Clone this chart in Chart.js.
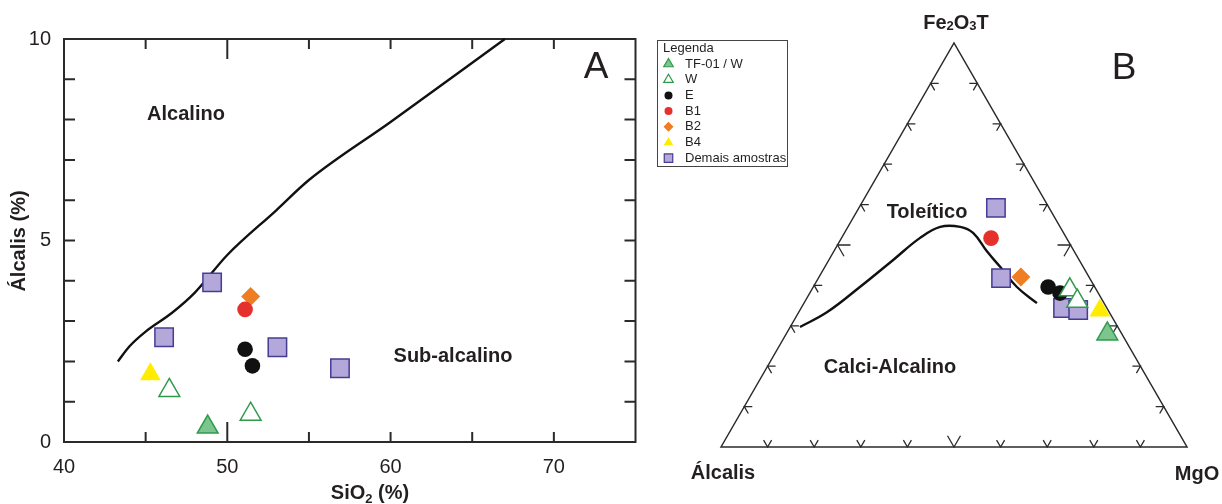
<!DOCTYPE html>
<html>
<head>
<meta charset="utf-8">
<script src="https://cdn.jsdelivr.net/npm/chart.js@4.4.1/dist/chart.umd.min.js"></script>
<style>
  body { margin: 0; background: #fff; }
  #wrap { position: relative; width: 1222px; height: 504px; }
  canvas { position: absolute; top: 0; }
  #chartA { left: 0; }
  #chartB { left: 650px; }
</style>
</head>
<body>
<div id="wrap">
  <canvas id="chartA" width="650" height="504"></canvas>
  <canvas id="chartB" width="572" height="504"></canvas>
</div>
<script>
// grupos de amostras, na ordem da legenda
const groupNames = ['TF-01 / W', 'W', 'E', 'B1', 'B2', 'B4', 'Demais amostras'];

// A: SiO2 (%) x álcalis (%)
const silica  = [[48.8], [46.45, 51.43], [51.09, 51.54], [51.09], [51.43], [45.29], [49.07, 46.13, 53.07, 56.9]];
const alkalis = [[0.37], [1.28, 0.69], [2.3, 1.89], [3.29], [3.61], [1.68], [3.96, 2.6, 2.35, 1.83]];

// limite alcalino / sub-alcalino
const divSilica  = [43.3, 44, 45, 46.6, 48, 50, 53, 55, 60, 67];
const divAlkalis = [2.0, 2.37, 2.74, 3.2, 3.7, 4.64, 5.75, 6.5, 7.94, 10];

const silicaTicks = [40, 50, 60, 70];
const alkaliTicks = [0, 5, 10];

// B: AFM (álcalis, Fe2O3T, MgO em %)
const afmA = [[3.1], [5.7, 5.5], [10.0, 8.2], [16.2], [14.6], [1.8], [11.4, 19.0, 9.4, 6.4]];
const afmF = [[28.0], [38.9, 36.1], [39.6, 38.1], [51.7], [42.1], [33.8], [59.2, 41.8, 34.4, 33.9]];
const afmM = [[68.9], [55.4, 58.4], [50.4, 53.7], [32.1], [43.3], [64.4], [29.4, 39.2, 56.2, 59.7]];

// limite toleítico / calci-alcalino
const curveA = [68.2, 60.5, 50.4, 39.9, 31.5, 25.7, 21.4, 19.4, 18.7, 17.8, 16.7, 14.4];
const curveF = [29.7, 33.4, 39.6, 46.3, 51.7, 54.5, 54.5, 53.0, 48.3, 44.6, 39.6, 35.6];
const curveM = [2.1, 6.1, 10.0, 13.8, 16.8, 19.8, 24.1, 27.6, 33.0, 37.6, 43.7, 50.0];

const ternTicks = [10, 20, 30, 40, 50, 60, 70, 80, 90];

const ink = '#231f20';
const markers = [
  { style: 'triangle', r: 12,  lr: 5.5, fill: '#7cc58e', stroke: '#2f9a4c', bw: 1.5 },
  { style: 'triangle', r: 12,  lr: 5.5, fill: '#ffffff', stroke: '#2f9a4c', bw: 1.5 },
  { style: 'circle',   r: 7.8, lr: 4,   fill: '#111111', stroke: '#111111', bw: 0 },
  { style: 'circle',   r: 7.8, lr: 4,   fill: '#e5312b', stroke: '#e5312b', bw: 0 },
  { style: 'rectRot',  r: 9.5, lr: 5,   fill: '#ef7d22', stroke: '#ef7d22', bw: 0 },
  { style: 'triangle', r: 12,  lr: 5.5, fill: '#ffec00', stroke: '#ffec00', bw: 0 },
  { style: 'rect',     r: 13,  lr: 6,   fill: '#b3a8d9', stroke: '#453c93', bw: 1.5 },
];

const FONT = '"Liberation Sans", Arial, sans-serif';

function tern(a, f, m) {
  const s = a + f + m;
  return { x: (m + f / 2) / s * 100, y: f / s * 100 };
}

function markerSet(name, i, pts) {
  const mk = markers[i];
  return {
    label: name, data: pts, clip: false,
    pointStyle: mk.style, pointRadius: mk.r, pointHoverRadius: mk.r,
    backgroundColor: mk.fill, borderColor: mk.stroke, borderWidth: mk.bw,
    pointBackgroundColor: mk.fill, pointBorderColor: mk.stroke, pointBorderWidth: mk.bw
  };
}

function lineSet(pts, tension) {
  return {
    label: '', data: pts, showLine: true, pointRadius: 0, clip: false,
    borderColor: '#111', borderWidth: 2.4, tension: tension, fill: false
  };
}

function text(ctx, str, x, y, font, align) {
  ctx.save();
  ctx.fillStyle = ink; ctx.font = font;
  ctx.textAlign = align || 'center'; ctx.textBaseline = 'middle';
  ctx.fillText(str, x, y);
  ctx.restore();
}

// texto com índices (SiO2, Fe2O3T)
function richText(ctx, parts, cx, baseline) {
  ctx.save();
  ctx.fillStyle = ink; ctx.textAlign = 'left'; ctx.textBaseline = 'alphabetic';
  let w = 0;
  parts.forEach(p => { ctx.font = p.font; w += ctx.measureText(p.t).width; });
  let x = cx - w / 2;
  parts.forEach(p => {
    ctx.font = p.font;
    ctx.fillText(p.t, x, baseline + (p.dy || 0));
    x += ctx.measureText(p.t).width;
  });
  ctx.restore();
}

function drawMarker(ctx, mk, x, y, r) {
  ctx.save();
  ctx.fillStyle = mk.fill; ctx.strokeStyle = mk.stroke; ctx.lineWidth = mk.bw ? 1.2 : 0;
  Chart.helpers.drawPoint(ctx, { pointStyle: mk.style, radius: r, rotation: 0, borderWidth: mk.bw ? 1.2 : 0 }, x, y);
  ctx.restore();
}

// ---------- A ----------
const frameA = {
  id: 'frameA',
  beforeDatasetsDraw(chart) {
    const { ctx, chartArea: a, scales: { x, y } } = chart;
    ctx.save();
    ctx.strokeStyle = '#2a2a2a'; ctx.lineWidth = 2;
    ctx.strokeRect(a.left, a.top, a.right - a.left, a.bottom - a.top);
    ctx.beginPath();
    for (let v = 45; v <= 70; v += 5) {
      const px = x.getPixelForValue(v), len = v === 50 ? 20 : 10;
      ctx.moveTo(px, a.bottom); ctx.lineTo(px, a.bottom - len);
      ctx.moveTo(px, a.top); ctx.lineTo(px, a.top + len);
    }
    for (let v = 1; v <= 9; v++) {
      const py = y.getPixelForValue(v);
      ctx.moveTo(a.left, py); ctx.lineTo(a.left + 11, py);
      ctx.moveTo(a.right, py); ctx.lineTo(a.right - 11, py);
    }
    ctx.stroke();
    ctx.restore();
  },
  afterDraw(chart) {
    const { ctx, chartArea: a, scales: { x, y } } = chart;
    const reg = '20px ' + FONT, bold = 'bold 20px ' + FONT;
    silicaTicks.forEach(v => text(ctx, String(v), x.getPixelForValue(v), a.bottom + 25, reg));
    alkaliTicks.forEach(v => text(ctx, String(v), a.left - 13, y.getPixelForValue(v), reg, 'right'));
    richText(ctx, [
      { t: 'SiO', font: bold }, { t: '2', font: 'bold 13px ' + FONT, dy: 4 }, { t: ' (%)', font: bold }
    ], 370, 499);
    ctx.save();
    ctx.translate(19, 241); ctx.rotate(-Math.PI / 2);
    text(ctx, 'Álcalis (%)', 0, 0, bold);
    ctx.restore();
    text(ctx, 'Alcalino', 186, 114, bold);
    text(ctx, 'Sub-alcalino', 453, 356, bold);
    text(ctx, 'A', 596, 68, '37px ' + FONT);
  }
};

const setsA = groupNames.map((n, i) => markerSet(n, i, silica[i].map((v, k) => ({ x: v, y: alkalis[i][k] }))));
setsA.push(lineSet(divSilica.map((v, k) => ({ x: v, y: divAlkalis[k] })), 0));
setsA[setsA.length - 1].cubicInterpolationMode = 'monotone';

new Chart(document.getElementById('chartA'), {
  type: 'scatter',
  data: { datasets: setsA },
  options: {
    responsive: false, animation: false, devicePixelRatio: 1, events: [],
    layout: { padding: { left: 64, right: 9, top: 39, bottom: 62 } },
    plugins: { legend: { display: false }, tooltip: { enabled: false } },
    scales: {
      x: { type: 'linear', min: 40, max: 75, display: false },
      y: { type: 'linear', min: 0, max: 10, display: false }
    }
  },
  plugins: [frameA]
});

// ---------- B ----------
const frameB = {
  id: 'frameB',
  beforeDatasetsDraw(chart) {
    const { ctx, scales: { x, y } } = chart;
    const px = (a, f, m) => { const p = tern(a, f, m); return [x.getPixelForValue(p.x), y.getPixelForValue(p.y)]; };
    const c = [px(100, 0, 0), px(0, 100, 0), px(0, 0, 100)];
    ctx.save();
    ctx.strokeStyle = '#2a2a2a'; ctx.lineWidth = 1.5;
    ctx.beginPath();
    ctx.moveTo(c[0][0], c[0][1]); ctx.lineTo(c[1][0], c[1][1]); ctx.lineTo(c[2][0], c[2][1]); ctx.closePath();
    ctx.stroke();
    const s = Math.sqrt(3) / 2;
    const chevron = (p, d1, d2, len) => {
      ctx.moveTo(p[0] + d1[0] * len, p[1] + d1[1] * len);
      ctx.lineTo(p[0], p[1]);
      ctx.lineTo(p[0] + d2[0] * len, p[1] + d2[1] * len);
    };
    ctx.lineWidth = 1.3;
    ctx.beginPath();
    ternTicks.forEach(t => {
      const len = t === 50 ? 13 : 8;
      chevron(px(100 - t, 0, t), [-0.5, -s], [0.5, -s], len);
      chevron(px(100 - t, t, 0), [1, 0], [0.5, s], len);
      chevron(px(0, t, 100 - t), [-1, 0], [-0.5, s], len);
    });
    ctx.stroke();
    ctx.restore();
  },
  afterDraw(chart) {
    const { ctx } = chart;
    const bold = 'bold 20px ' + FONT, sub = 'bold 13px ' + FONT;
    richText(ctx, [
      { t: 'Fe', font: bold }, { t: '2', font: sub, dy: 1 }, { t: 'O', font: bold }, { t: '3', font: sub, dy: 1 }, { t: 'T', font: bold }
    ], 306, 28.5);
    text(ctx, 'Álcalis', 73, 473, bold);
    text(ctx, 'MgO', 547, 474, bold);
    text(ctx, 'Toleítico', 277, 212, bold);
    text(ctx, 'Calci-Alcalino', 240, 367, bold);
    text(ctx, 'B', 474, 69, '37px ' + FONT);

    // legenda
    ctx.save();
    ctx.fillStyle = '#fff'; ctx.fillRect(7, 40, 130, 126);
    ctx.strokeStyle = '#444'; ctx.lineWidth = 1;
    ctx.strokeRect(7.5, 40.5, 130, 126);
    ctx.restore();
    const lf = '13px ' + FONT;
    text(ctx, 'Legenda', 13, 48, lf, 'left');
    groupNames.forEach((n, i) => {
      const yy = 64 + i * 15.7;
      drawMarker(ctx, markers[i], 18.5, yy, markers[i].lr);
      text(ctx, n, 35, yy, lf, 'left');
    });
  }
};

const setsB = groupNames.map((n, i) => markerSet(n, i, afmA[i].map((a, k) => tern(a, afmF[i][k], afmM[i][k]))));
setsB.push(lineSet(curveA.map((a, k) => tern(a, curveF[k], curveM[k])), 0.4));

new Chart(document.getElementById('chartB'), {
  type: 'scatter',
  data: { datasets: setsB },
  options: {
    responsive: false, animation: false, devicePixelRatio: 1, events: [],
    layout: { padding: { left: 71, right: 35, top: 43, bottom: 57 } },
    plugins: { legend: { display: false }, tooltip: { enabled: false } },
    scales: {
      x: { type: 'linear', min: 0, max: 100, display: false },
      y: { type: 'linear', min: 0, max: 100, display: false }
    }
  },
  plugins: [frameB]
});
</script>
</body>
</html>
